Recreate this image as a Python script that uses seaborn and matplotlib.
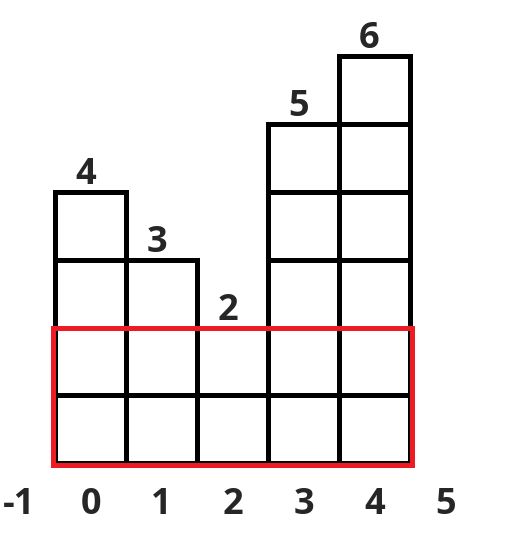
import numpy as np
import pandas as pd
import matplotlib
matplotlib.use("Agg")
import matplotlib.pyplot as plt
from matplotlib.patches import Rectangle
import seaborn as sns

# histogram bars (index -> height)
bar_index = [0, 1, 2, 3, 4]
bar_heights = [4, 3, 2, 5, 6]
axis_labels = [-1, 0, 1, 2, 3, 4, 5]

# largest rectangle: min height over the full span
rect_left, rect_right = 0, 4
rect_height = min(bar_heights[rect_left:rect_right + 1])

sns.set_style("white")
plt.rcParams["font.family"] = ["Open Sans", "DejaVu Sans"]

df = pd.DataFrame({"idx": bar_index, "h": bar_heights})

fig = plt.figure(figsize=(5.25, 5.48), dpi=100)
ax = fig.add_axes([0, 0, 1, 1])

sns.barplot(data=df, x="idx", y="h", native_scale=True, width=1,
            color="white", edgecolor="black", linewidth=3.6, ax=ax,
            saturation=1)

# unit cell dividers inside every bar
for i, h in zip(bar_index, bar_heights):
    for k in range(1, h):
        ax.hlines(k, i - 0.5, i + 0.5, color="black", linewidth=3.6)

# red rectangle for the answer
ax.add_patch(Rectangle((rect_left - 0.53, -0.02), rect_right - rect_left + 1.06,
                       rect_height + 0.02, fill=False, edgecolor="#ED1C24",
                       linewidth=3.6, zorder=5))

# height labels above each bar
for i, h in zip(bar_index, bar_heights):
    ax.text(i - 0.07, h + 0.25, str(h), ha="center", va="center",
            fontsize=26, fontweight="bold")

# index labels along the bottom
for v in axis_labels:
    ax.text(v, -0.62, str(v), ha="center", va="center",
            fontsize=26, fontweight="bold")

ax.set_xlim(-1.275, 6.12)
ax.set_ylim(-1.25, 6.83)
ax.axis("off")

fig.savefig("out.png", dpi=100)
